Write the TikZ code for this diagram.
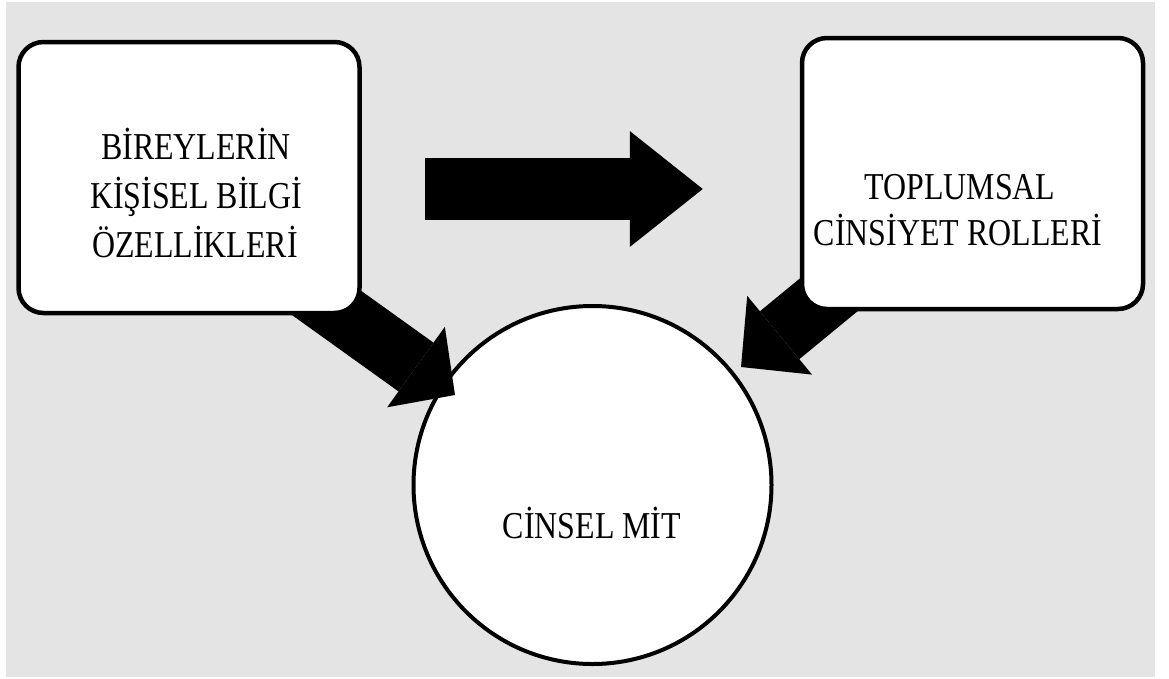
\documentclass[tikz,border=0pt]{standalone}
\usepackage{fontspec}
\setmainfont{Liberation Serif}[FakeStretch=0.84]
\usetikzlibrary{arrows.meta}
\definecolor{zemin}{RGB}{228,228,228}
\pgfdeclarelayer{zeminkat}
\pgfdeclarelayer{okkat}
\pgfsetlayers{zeminkat,okkat,main}

\begin{document}
\begin{tikzpicture}[x=1pt, y=-1pt,
	kutu/.style={draw, line width=4.5pt, fill=white, rounded corners=25pt, minimum width=341pt, minimum height=271pt},
	cember/.style={draw, circle, line width=4pt, fill=white, minimum size=358pt},
	yazi/.style={anchor=base, inner sep=0pt, font=\fontsize{38}{46}\selectfont},
	blokok/.style n args={3}{line width=#1, -{Triangle[length=#2, width=#3, line width=0pt]}}]
	\useasboundingbox (0,0) rectangle (1169,678);
	\begin{pgfonlayer}{zeminkat}
		\fill[zemin] (6,2) rectangle (1155,677);
	\end{pgfonlayer}
	
	\node[kutu] (birey) at (189,177.5) {};
	\node[kutu] (toplum) at (972.5,173.5) {};
	
	\node[yazi] (birey1) at (196,159) {BİREYLERİN};
	\node[yazi] (birey2) at (196,208) {KİŞİSEL BİLGİ};
	\node[yazi] (birey3) at (195,257) {ÖZELLİKLERİ};
	
	\node[yazi] (toplum1) at (960,199) {TOPLUMSAL};
	\node[yazi] (toplum2) at (958,245) {CİNSİYET ROLLERİ};
	
	\begin{pgfonlayer}{okkat}
		\node[cember] (mit) at (592.5,485) {};
		
		%% oklar
		\coordinate (yat) at (0,189);
		\coordinate (soluc) at (455,395);
		\coordinate (saguc) at (741,367);
		\draw[blokok={62pt}{73pt}{116pt}, shorten <=63pt, shorten >=97pt] (birey.east |- yat) -- (toplum.west |- yat);
		\draw[blokok={60pt}{48pt}{99pt}, shorten <=-70pt] ([xshift=-18pt]birey.south east) -- (soluc);
		\draw[blokok={62pt}{50pt}{102pt}, shorten <=-70pt] ([xshift=9pt]toplum.south west) -- (saguc);
	\end{pgfonlayer}
	
	\node[yazi] (mityazi) at (592,538) {CİNSEL MİT};
\end{tikzpicture}
\end{document}
